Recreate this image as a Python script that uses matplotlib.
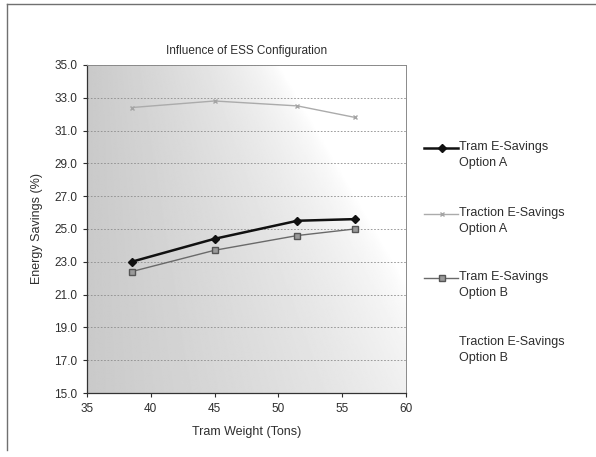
import matplotlib

matplotlib.use("Agg")
import matplotlib.pyplot as plt
import numpy as np
from matplotlib.lines import Line2D

plt.rcParams["font.family"] = ["Liberation Sans", "DejaVu Sans"]

# ─── Data ────────────────────────────────────────────────────────────────────

tram_weight = [38.5, 45.0, 51.5, 56.0]
tram_savings_a = [23.0, 24.4, 25.5, 25.6]
traction_savings_a = [32.4, 32.8, 32.5, 31.8]
tram_savings_b = [22.4, 23.7, 24.6, 25.0]

series_labels = [
    "Tram E-Savings\nOption A",
    "Traction E-Savings\nOption A",
    "Tram E-Savings\nOption B",
    "Traction E-Savings\nOption B",
]

x_ticks = [35, 40, 45, 50, 55, 60]
y_ticks = [15.0, 17.0, 19.0, 21.0, 23.0, 25.0, 27.0, 29.0, 31.0, 33.0, 35.0]

# ─── Styles ──────────────────────────────────────────────────────────────────

TEXT_COLOR = "#2e2e2e"
GRID_COLOR = "#8c8c8c"
styles = [
    dict(color="#111111", lw=1.8, marker="D", ms=4, mfc="#111111", mec="#111111"),
    dict(color="#ababab", lw=1.0, marker="x", ms=3.5, mfc="none", mec="#a5a5a5"),
    dict(color="#6a6a6a", lw=1.0, marker="s", ms=4, mfc="#9a9a9a", mec="#555555"),
    dict(color="none", lw=0, marker="none"),
]

fig = plt.figure(figsize=(5.96, 4.57), dpi=100, facecolor="white")
ax = fig.add_axes([0.146, 0.140, 0.535, 0.718])

# shaded plot-area fill: grey on the left, fading to white towards the top right
u = np.linspace(0, 1, 300)
v = np.linspace(0, 1, 200)
U, V = np.meshgrid(u, v)
fade = np.clip(1 - U / (0.6 + 0.6 * (1 - V)), 0, 1) ** 0.7
shade = 1 - 0.21 * fade
ax.imshow(
    shade,
    cmap="gray",
    vmin=0,
    vmax=1,
    origin="lower",
    extent=(0, 1, 0, 1),
    transform=ax.transAxes,
    aspect="auto",
    zorder=0,
    interpolation="bilinear",
)

series = [tram_savings_a, traction_savings_a, tram_savings_b]
for values, st in zip(series, styles):
    ax.plot(tram_weight, values, zorder=3, **st)

ax.set_xlim(35, 60)
ax.set_ylim(15, 35)
ax.set_xticks(x_ticks)
ax.set_yticks(y_ticks)
ax.set_yticklabels([f"{t:.1f}" for t in y_ticks])
ax.yaxis.grid(True, color=GRID_COLOR, lw=0.6, ls=(0, (2, 2)), zorder=1)
ax.set_axisbelow(True)

ax.tick_params(axis="both", direction="out", length=3, width=0.8,
               colors=TEXT_COLOR, labelsize=8.5, pad=4)
for side in ["left", "bottom"]:
    ax.spines[side].set_color("#333333")
    ax.spines[side].set_linewidth(0.9)
for side in ["top", "right"]:
    ax.spines[side].set_color("#8a8a8a")
    ax.spines[side].set_linewidth(0.7)

ax.set_title("Influence of ESS Configuration", fontsize=8.5, color=TEXT_COLOR, pad=8)
ax.set_xlabel("Tram Weight (Tons)", fontsize=9, color=TEXT_COLOR, labelpad=8)
ax.set_ylabel("Energy Savings (%)", fontsize=9, color=TEXT_COLOR, labelpad=8)

# legend on the right, handle level with the first text line
W, H = 596, 457
legend_rows = [148, 214, 278, 343]
for row, label, st in zip(legend_rows, series_labels, styles):
    y = 1 - row / H
    fig.add_artist(Line2D([424 / W, 442 / W, 458 / W], [y, y, y],
                          markevery=[1], transform=fig.transFigure, **st))
    fig.text(459 / W, y + 7 / H, label, fontsize=9, color=TEXT_COLOR,
             va="top", ha="left", linespacing=1.45,
             transform=fig.transFigure)

# outer chart border (top and left edges)
fig.add_artist(Line2D([7 / W, 1], [1 - 4 / H, 1 - 4 / H], color="#707070",
                      lw=1.0, transform=fig.transFigure))
fig.add_artist(Line2D([7 / W, 7 / W], [1 - 4 / H, 1 - 450 / H], color="#707070",
                      lw=1.0, transform=fig.transFigure))

fig.savefig("out.png", dpi=100, facecolor="white")
